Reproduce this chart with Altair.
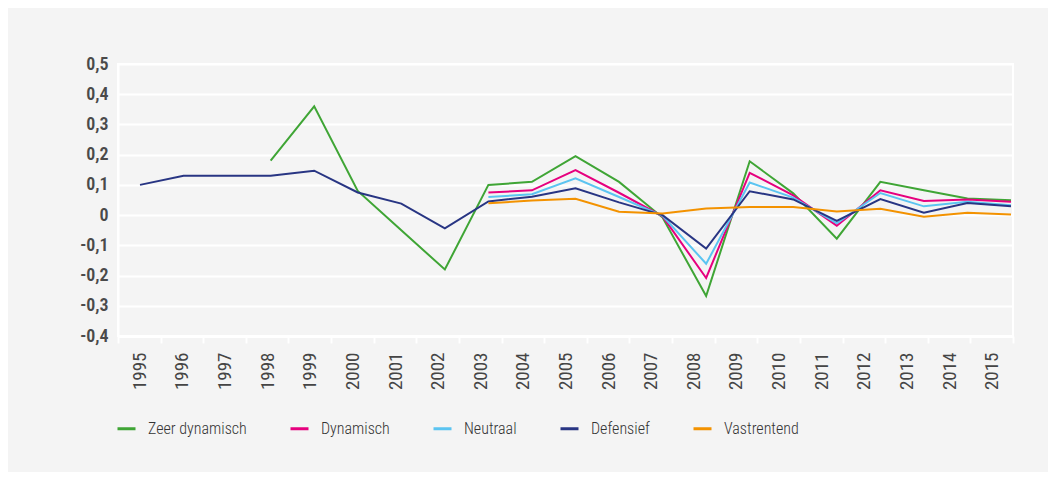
import altair as alt
import pandas as pd

years = list(range(1995, 2016))
series_names = ["Zeer dynamisch", "Dynamisch", "Neutraal", "Defensief", "Vastrentend"]
series_colors = ["#3fa535", "#e6007e", "#5bc4f1", "#283583", "#f39200"]

zeer_dynamisch = [None, None, None, 0.18, 0.36, 0.08, -0.05, -0.18, 0.10, 0.11, 0.195,
                  0.11, -0.008, -0.268, 0.178, 0.072, -0.078, 0.11, 0.082, 0.055, 0.049]
dynamisch = [None] * 8 + [0.075, 0.082, 0.149, 0.074, -0.004, -0.208, 0.14, 0.065,
                          -0.035, 0.082, 0.047, 0.052, 0.044]
neutraal = [None] * 8 + [0.06, 0.069, 0.122, 0.06, -0.002, -0.161, 0.108, 0.058,
                         -0.027, 0.073, 0.029, 0.044, 0.033]
defensief = [0.10, 0.13, 0.13, 0.13, 0.147, 0.075, 0.038, -0.044, 0.045, 0.061, 0.089,
             0.042, 0.0, -0.111, 0.079, 0.052, -0.019, 0.053, 0.008, 0.04, 0.029]
vastrentend = [None] * 8 + [0.039, 0.048, 0.054, 0.011, 0.005, 0.022, 0.027, 0.027,
                            0.012, 0.021, -0.005, 0.008, 0.002]

y_ticks = [round(v / 10, 1) for v in range(-4, 6)]

all_series = [zeer_dynamisch, dynamisch, neutraal, defensief, vastrentend]
rows = []
for name, vals in zip(series_names, all_series):
    for yr, v in zip(years, vals):
        if v is not None:
            rows.append({"year": yr, "value": v, "series": name})
df = pd.DataFrame(rows)
axis_df = pd.DataFrame({"yearlabel": [str(y) for y in years]})

NARROW = "Liberation Sans Narrow, Arial Narrow, Roboto Condensed, sans-serif"

lines = alt.Chart(df).mark_line(strokeWidth=2).encode(
    x=alt.X("year:Q", scale=alt.Scale(domain=[1994.495, 2015.046], nice=False, zero=False), axis=None),
    y=alt.Y("value:Q", scale=alt.Scale(domain=[-0.4, 0.5], nice=False, zero=False),
            axis=alt.Axis(values=y_ticks, title=None, grid=True, gridColor="white", gridWidth=2,
                          domainColor="white", domainWidth=2, ticks=False,
                          labelExpr="datum.value == 0 ? '0' : replace(toString(round(datum.value*10)/10), '.', ',')",
                          labelFont=NARROW, labelFontSize=18, labelFontWeight=600,
                          labelColor="#4a4a4a", labelPadding=10)),
    color=alt.Color("series:N", scale=alt.Scale(domain=series_names, range=series_colors),
                    legend=alt.Legend(orient="none", legendX=-2, legendY=354, direction="horizontal",
                                      title=None, symbolType="stroke", symbolSize=324,
                                      symbolStrokeWidth=3, labelFont=NARROW, labelFontSize=16,
                                      labelFontWeight=300,
                                      labelColor="#333333", labelOffset=11, columnPadding=37,
                                      padding=0, labelLimit=0)),
)

xaxis = alt.Chart(axis_df).mark_point(opacity=0).encode(
    x=alt.X("yearlabel:O", sort=None, scale=alt.Scale(paddingInner=0, paddingOuter=0),
            axis=alt.Axis(orient="bottom", title=None, labelAngle=-90, tickBand="extent",
                          domainColor="white", domainWidth=3, tickColor="white", tickWidth=2,
                          tickSize=7, labelFont=NARROW, labelFontSize=19, labelColor="#454545",
                          labelPadding=9, grid=False)),
)

chart = alt.layer(lines, xaxis).resolve_scale(x="independent").properties(
    width=895, height=272,
    autosize=alt.AutoSizeParams(type="none"),
    padding={"left": 110, "top": 56, "right": 35, "bottom": 136},
    background="#f4f4f4",
).configure_view(stroke="white", strokeWidth=2)

chart.save("out.html", embed_options={"renderer": "svg", "actions": False})
